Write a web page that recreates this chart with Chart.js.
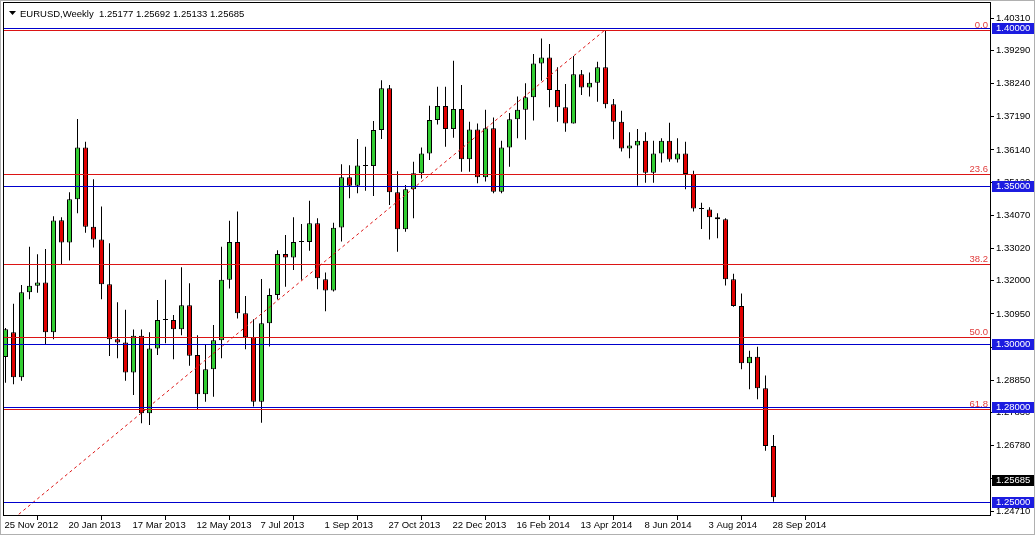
<!DOCTYPE html>
<html><head><meta charset="utf-8">
<script src="https://cdn.jsdelivr.net/npm/chart.js@4.4.1/dist/chart.umd.min.js"></script>
<style>html,body{margin:0;padding:0;background:#fff;overflow:hidden}canvas{display:block}</style>
</head><body>
<canvas id="c" width="1035" height="535"></canvas>
<script>
// Weekly EURUSD candles, week index 0 = 25 Nov 2012 ... 96 = 28 Sep 2014
const opens = [1.2959,1.3037,1.2895,1.3164,1.3184,1.3195,1.3037,1.3392,1.3321,1.3458,
1.3622,1.3371,1.3331,1.3189,1.3015,1.3005,1.2910,1.3026,1.2781,1.2986,
1.3076,1.3076,1.3047,1.3123,1.2965,1.2841,1.2920,1.3012,1.3203,1.3323,
1.3097,1.3021,1.2817,1.3066,1.3155,1.3285,1.3274,1.3323,1.3323,1.3382,
1.3205,1.3169,1.3369,1.3528,1.3501,1.3565,1.3563,1.3677,1.3809,1.3480,
1.3363,1.3490,1.3540,1.3603,1.3709,1.3753,1.3680,1.3744,1.3585,1.3679,
1.3528,1.3683,1.3482,1.3622,1.3711,1.3741,1.3781,1.3888,1.3907,1.3804,
1.3749,1.3698,1.3854,1.3812,1.3827,1.3876,1.3759,1.3703,1.3619,1.3628,
1.3643,1.3542,1.3603,1.3643,1.3584,1.3603,1.3538,1.3429,1.3426,1.3401,
1.3395,1.3205,1.3120,1.2939,1.2960,1.2860,1.2677];
const highs = [1.3051,1.3127,1.3187,1.3308,1.3284,1.3301,1.3404,1.3401,1.3480,1.3712,
1.3640,1.3521,1.3435,1.3319,1.3132,1.3108,1.3046,1.3046,1.3037,1.3139,
1.3203,1.3092,1.3243,1.3192,1.3028,1.2999,1.3060,1.3308,1.3390,1.3419,
1.3152,1.3078,1.3206,1.3176,1.3297,1.3345,1.3401,1.3380,1.3453,1.3398,
1.3226,1.3384,1.3569,1.3566,1.3649,1.3624,1.3706,1.3835,1.3820,1.3547,
1.3503,1.3577,1.3622,1.3754,1.3814,1.3814,1.3896,1.3820,1.3703,1.3698,
1.3741,1.3717,1.3643,1.3731,1.3783,1.3825,1.3918,1.3967,1.3949,1.3876,
1.3823,1.3911,1.3867,1.3859,1.3893,1.3994,1.3775,1.3738,1.3670,1.3680,
1.3670,1.3643,1.3651,1.3700,1.3651,1.3640,1.3548,1.3447,1.3433,1.3414,
1.3398,1.3222,1.3160,1.2979,1.2991,1.2900,1.2712];
const lows = [1.2877,1.2873,1.2884,1.3142,1.3162,1.2997,1.3015,1.3253,1.3264,1.3414,
1.3352,1.3305,1.3142,1.2962,1.2955,1.2884,1.2839,1.2749,1.2744,1.2965,
1.3002,1.2952,1.3028,1.2931,1.2791,1.2817,1.2833,1.2955,1.3176,1.3081,
1.2983,1.2802,1.2751,1.2992,1.3141,1.3181,1.3234,1.3203,1.3295,1.3173,
1.3104,1.3166,1.3324,1.3461,1.3477,1.3485,1.3468,1.3649,1.3440,1.3292,
1.3355,1.3398,1.3524,1.3582,1.3695,1.3624,1.3653,1.3545,1.3545,1.3509,
1.3514,1.3477,1.3477,1.3561,1.3651,1.3646,1.3707,1.3833,1.3749,1.3703,
1.3672,1.3698,1.3788,1.3783,1.3767,1.3746,1.3648,1.3609,1.3588,1.3501,
1.3510,1.3510,1.3574,1.3577,1.3574,1.3490,1.3419,1.3364,1.3331,1.3335,
1.3185,1.3118,1.2920,1.2857,1.2825,1.2662,1.2501];
const closes = [1.3047,1.2895,1.3164,1.3184,1.3195,1.3037,1.3391,1.3321,1.3458,1.3622,
1.3371,1.3331,1.3189,1.3015,1.3005,1.2910,1.3026,1.2781,1.2986,1.3076,
1.3078,1.3047,1.3123,1.2963,1.2841,1.2920,1.3012,1.3203,1.3323,1.3097,
1.3021,1.2817,1.3066,1.3155,1.3285,1.3274,1.3323,1.3325,1.3382,1.3208,
1.3169,1.3368,1.3528,1.3501,1.3565,1.3563,1.3677,1.3809,1.3480,1.3363,
1.3490,1.3540,1.3603,1.3709,1.3753,1.3680,1.3744,1.3585,1.3679,1.3528,
1.3683,1.3482,1.3622,1.3711,1.3741,1.3781,1.3888,1.3907,1.3804,1.3749,
1.3698,1.3854,1.3812,1.3827,1.3876,1.3759,1.3703,1.3619,1.3628,1.3643,
1.3542,1.3603,1.3643,1.3584,1.3603,1.3538,1.3429,1.3427,1.3401,1.3395,
1.3205,1.3120,1.2939,1.2960,1.2860,1.2677,1.2515];

const xTickIndex = [0,8,16,24,32,40,48,56,64,72,80,88,96];
const xTickLabels = ['25 Nov 2012','20 Jan 2013','17 Mar 2013','12 May 2013','7 Jul 2013','1 Sep 2013','27 Oct 2013','22 Dec 2013','16 Feb 2014','13 Apr 2014','8 Jun 2014','3 Aug 2014','28 Sep 2014'];
const yTickValues = [1.40310,1.39290,1.38240,1.37190,1.36140,1.35120,1.34070,1.33020,1.32000,1.30950,1.29900,1.28850,1.27830,1.26780,1.25730,1.24710];

const levelPrices = [1.40000,1.35000,1.30000,1.28000,1.25000];
const fibPrices = [1.3995,1.3538,1.3252,1.3022,1.2794];
const fibLabels = ['0.0','23.6','38.2','50.0','61.8'];
const trendWeeks = [-18, 75];
const trendPrices = [1.2050, 1.3995];
const currentPrice = 1.25685;
const headerText = 'EURUSD,Weekly  1.25177 1.25692 1.25133 1.25685';

const BULL = '#32cd32', BEAR = '#e00000', LINE_RED = '#dc1414', LINE_BLUE = '#0000cd', BOX_BLUE = '#1c1ce0', FIB_TXT = '#e03c3c';
const FONT = '9.5px "Liberation Sans", Arial, sans-serif';

const overlay = {
  id: 'overlay',
  afterDatasetsDraw(chart) {
    const {ctx, chartArea: a, scales: {y}} = chart;
    ctx.save();
    ctx.lineWidth = 1;
    fibPrices.forEach((p, k) => {
      const py = Math.round(y.getPixelForValue(p)) + 0.5;
      ctx.strokeStyle = LINE_RED;
      ctx.beginPath(); ctx.moveTo(a.left, py); ctx.lineTo(a.right, py); ctx.stroke();
      ctx.fillStyle = FIB_TXT; ctx.font = FONT; ctx.textAlign = 'right'; ctx.textBaseline = 'alphabetic';
      ctx.fillText(fibLabels[k], a.right - 3, py - 3);
    });
    levelPrices.forEach(p => {
      const py = Math.round(y.getPixelForValue(p)) + 0.5;
      ctx.strokeStyle = LINE_BLUE;
      ctx.beginPath(); ctx.moveTo(a.left, py); ctx.lineTo(a.right, py); ctx.stroke();
    });
    ctx.restore();
  },
  afterDraw(chart) {
    const {ctx, chartArea: a, scales: {y}} = chart;
    ctx.save();
    ctx.strokeStyle = '#b0b0b0'; ctx.lineWidth = 1;
    ctx.strokeRect(0.5, 0.5, chart.width - 1, chart.height - 1);
    ctx.strokeStyle = '#000';
    ctx.strokeRect(a.left + 0.5, a.top + 0.5, a.right - a.left - 1, a.bottom - a.top - 1);
    ctx.fillStyle = '#000';
    ctx.beginPath(); ctx.moveTo(9, 11); ctx.lineTo(16, 11); ctx.lineTo(12.5, 15); ctx.closePath(); ctx.fill();
    ctx.font = '9.5px "Liberation Sans", Arial, sans-serif';
    ctx.textAlign = 'left'; ctx.textBaseline = 'alphabetic';
    ctx.fillText(headerText, 20, 16.5);
    ctx.font = FONT; ctx.textBaseline = 'middle';
    const box = (p, bg) => {
      const py = Math.round(y.getPixelForValue(p));
      ctx.fillStyle = bg; ctx.fillRect(a.right + 1, py - 5, 42, 11);
      ctx.fillStyle = '#fff'; ctx.fillText(p.toFixed(5), a.right + 5, py + 0.5);
    };
    levelPrices.forEach(p => box(p, BOX_BLUE));
    box(currentPrice, '#000');
    ctx.restore();
  }
};

new Chart(document.getElementById('c'), {
  type: 'bar',
  data: {
    datasets: [
      { type: 'line', data: trendWeeks.map((w, k) => ({x: w, y: trendPrices[k]})),
        borderColor: LINE_RED, borderWidth: 1, borderDash: [3, 3], pointRadius: 0, fill: false, tension: 0 },
      { data: opens.map((o, i) => ({x: i, y: [o, closes[i]]})),
        backgroundColor: opens.map((o, i) => closes[i] >= o ? BULL : BEAR),
        borderColor: '#000', borderWidth: 1, borderSkipped: false, maxBarThickness: 5,
        barPercentage: 1, categoryPercentage: 1, grouped: false, inflateAmount: 0, minBarLength: 1 },
      { data: lows.map((l, i) => ({x: i, y: [l, highs[i]]})),
        backgroundColor: '#000', borderWidth: 0, maxBarThickness: 1,
        barPercentage: 1, categoryPercentage: 1, grouped: false, inflateAmount: 0 }
    ]
  },
  options: {
    responsive: false, animation: false, devicePixelRatio: 1,
    layout: { padding: { left: 3, top: 2, right: 0, bottom: 0 } },
    plugins: { legend: { display: false }, tooltip: { enabled: false }, title: { display: false } },
    scales: {
      x: {
        type: 'linear', min: -0.3125, max: 123.1875, offset: false,
        afterBuildTicks: s => { s.ticks = xTickIndex.map(v => ({value: v})); },
        afterFit: s => { s.height = 19; s.paddingLeft = 0; s.paddingRight = 0; },
        ticks: { autoSkip: false, maxRotation: 0, minRotation: 0, align: 'start', padding: 0, labelOffset: -1, color: '#000',
          font: { family: '"Liberation Sans", Arial, sans-serif', size: 9.5 },
          callback: (v, idx) => xTickLabels[idx] },
        grid: { display: true, drawOnChartArea: false, drawTicks: true, tickLength: 4, color: '#000' },
        border: { display: false }
      },
      y: {
        type: 'linear', position: 'right', min: 1.245570, max: 1.408228,
        afterBuildTicks: s => { s.ticks = yTickValues.map(v => ({value: v})); },
        afterFit: s => { s.width = 44; s.paddingTop = 0; s.paddingBottom = 0; },
        ticks: { autoSkip: false, padding: 2, color: '#000',
          font: { family: '"Liberation Sans", Arial, sans-serif', size: 9.5 },
          callback: v => Number(v).toFixed(5) },
        grid: { display: true, drawOnChartArea: false, drawTicks: true, tickLength: 3, color: '#000' },
        border: { display: false }
      }
    }
  },
  plugins: [overlay]
});
</script>
</body></html>
